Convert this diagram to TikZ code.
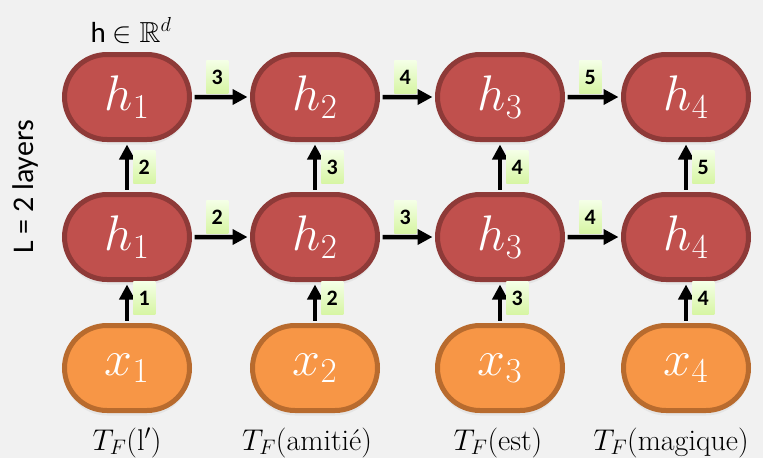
\RequirePackage{fix-cm}
\documentclass[tikz,border=0pt]{standalone}
\usepackage{fontspec}
\setsansfont{Carlito}
\usepackage{xcolor}
\definecolor{hred}{HTML}{C0504D}
\definecolor{hredline}{HTML}{8E3A38}
\definecolor{xorange}{HTML}{F79646}
\definecolor{xorangeline}{HTML}{B86B2E}
\definecolor{numtop}{HTML}{F4FFE6}
\definecolor{numbot}{HTML}{D6F5A2}
\definecolor{bggray}{HTML}{F1F1F1}
\usepackage{amsmath}
\usepackage{amssymb}
\usepackage{tikz}
\usetikzlibrary{arrows.meta, positioning, shapes.misc, shadows}
\tikzset{%
    cell/.style={%
        rounded rectangle, minimum width=125pt, minimum height=85pt,
        line width=5pt, text=white, inner sep=0pt,
        font=\fontsize{50}{52}\selectfont,
        drop shadow={opacity=0.10, shadow xshift=0pt, shadow yshift=-5pt}
    },
    hcell/.style={%
        cell, draw=hredline, fill=hred
    },
    xcell/.style={%
        cell, draw=xorangeline, fill=xorange
    },
    flow/.style={%
        -{Triangle[length=15pt, width=15pt]}, line width=4.5pt,
        shorten <=2.5pt, shorten >=2.5pt
    },
    num/.style={%
        top color=numtop, bottom color=numbot, minimum width=22pt, minimum height=33pt,
        inner sep=0pt, text=black, font=\sffamily\bfseries\fontsize{22}{24}\selectfont
    },
    hnum/.style={%
        num, pos=0, anchor=south west, xshift=12pt, yshift=1pt
    },
    vnum/.style={%
        num, pos=0, anchor=south west, xshift=4pt, yshift=6pt
    },
    word/.style={%
        anchor=base, font=\fontsize{30}{32}\selectfont
    },
}

\begin{document}
\begin{tikzpicture}[x=1pt, y=-1pt]
    \useasboundingbox (0,0) rectangle (763,458);
    \fill[bggray] (0,0) rectangle (763,458);

    % inputs
    \node[xcell] (in1) at (127,368) {$x_1$};
    \node[xcell] (in2) at (315,368) {$x_2$};
    \node[xcell] (in3) at (500,368) {$x_3$};
    \node[xcell] (in4) at (686,368) {$x_4$};

    % layer 1
    \node[hcell] (mid1) at (127,237) {$h_1$};
    \node[hcell] (mid2) at (315,237) {$h_2$};
    \node[hcell] (mid3) at (500,237) {$h_3$};
    \node[hcell] (mid4) at (686,237) {$h_4$};

    % layer 2
    \node[hcell] (top1) at (127,97) {$h_1$};
    \node[hcell] (top2) at (315,97) {$h_2$};
    \node[hcell] (top3) at (500,97) {$h_3$};
    \node[hcell] (top4) at (686,97) {$h_4$};

    \node[word] (w1) at (127,450) {$T_F$(l$'$)};
    \node[word] (w2) at (307,450) {$T_F$(amitié)};
    \node[word] (w3) at (498,450) {$T_F$(est)};
    \node[word] (w4) at (671,450) {$T_F$(magique)};

    \node[anchor=base, font=\sffamily\fontsize{29}{30}\selectfont] (dim) at (131,42) {h $\in \mathbb{R}^d$};
    \node[anchor=base, rotate=90, font=\sffamily\fontsize{30}{30}\selectfont] (layers) at (33,187) {L = 2 layers};

    \draw[flow] (in1) to node[vnum] {1} (mid1);
    \draw[flow] (in2) to node[vnum] {2} (mid2);
    \draw[flow] (in3) to node[vnum] {3} (mid3);
    \draw[flow] (in4) to node[vnum] {4} (mid4);

    \draw[flow] (mid1) to node[vnum] {2} (top1);
    \draw[flow] (mid2) to node[vnum] {3} (top2);
    \draw[flow] (mid3) to node[vnum] {4} (top3);
    \draw[flow] (mid4) to node[vnum] {5} (top4);

    \draw[flow] (mid1) to node[hnum] {2} (mid2);
    \draw[flow] (mid2) to node[hnum] {3} (mid3);
    \draw[flow] (mid3) to node[hnum] {4} (mid4);

    \draw[flow] (top1) to node[hnum] {3} (top2);
    \draw[flow] (top2) to node[hnum] {4} (top3);
    \draw[flow] (top3) to node[hnum] {5} (top4);
\end{tikzpicture}
\end{document}
